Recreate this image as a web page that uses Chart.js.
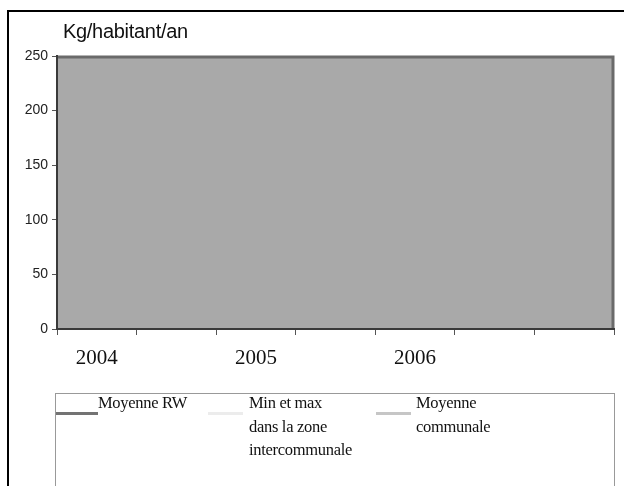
<!DOCTYPE html>
<html>
<head>
<meta charset="utf-8">
<script src="https://cdn.jsdelivr.net/npm/chart.js@4/dist/chart.umd.min.js"></script>
<style>
  body { margin: 0; background: #fff; }
  #wrap { position: relative; width: 624px; height: 486px; overflow: hidden; }
  #frame { position: absolute; left: 7px; top: 10px; width: 700px; height: 600px;
           border-top: 2px solid #000; border-left: 2px solid #000; }
  #title { position: absolute; left: 63px; top: 21px; font: 20px "Liberation Sans", Arial, sans-serif;
           line-height: 20px; color: #111; letter-spacing: -0.3px; }
  #legend { position: absolute; left: 55px; top: 393px; width: 558px; height: 100px;
            border: 1px solid #999; background: #fff; font: 16.5px "Liberation Serif", "Times New Roman", serif;
            color: #111; }
  .swatch { position: absolute; height: 3px; top: 18px; }
  .txt { position: absolute; top: -3px; white-space: pre; line-height: 23.5px; letter-spacing: -0.3px; }
  canvas { position: absolute; left: 0; top: 0; }
</style>
</head>
<body>
<div id="wrap">
  <div id="frame"></div>
  <canvas id="chart" width="624" height="486"></canvas>
  <div id="title">Kg/habitant/an</div>
  <div id="legend"></div>
</div>
<script>
// ---------- Data ----------
const years = ['2004', '', '2005', '', '2006', '', ''];
const yTicks = [0, 50, 100, 150, 200, 250];

// aucune valeur visible sur le graphique
const moyenneRW = [null, null, null, null, null, null, null];
const minMaxZone = [null, null, null, null, null, null, null];
const moyenneCommunale = [null, null, null, null, null, null, null];

const seriesNames = ['Moyenne RW', 'Min et max\ndans la zone\nintercommunale', 'Moyenne\ncommunale'];
const seriesColors = ['#737373', '#ececec', '#c6c6c6'];

// ---------- Fond de la zone de tracé ----------
const plotBg = {
  id: 'plotBg',
  beforeDraw(chart) {
    const { ctx, chartArea: a } = chart;
    ctx.save();
    ctx.fillStyle = '#a9a9a9';
    ctx.fillRect(a.left, a.top, a.right - a.left, a.bottom - a.top);
    ctx.strokeStyle = '#6a6a6a';
    ctx.lineWidth = 3;
    ctx.beginPath();
    ctx.moveTo(a.left, a.top + 1);
    ctx.lineTo(a.right - 1, a.top + 1);
    ctx.lineTo(a.right - 1, a.bottom);
    ctx.stroke();
    ctx.restore();
  }
};

const datasets = [moyenneRW, minMaxZone, moyenneCommunale].map((d, i) => ({
  label: seriesNames[i],
  data: d,
  borderColor: seriesColors[i],
  borderWidth: 3,
  pointRadius: 0,
  fill: false
}));

new Chart(document.getElementById('chart'), {
  type: 'line',
  data: { labels: years, datasets },
  options: {
    responsive: false,
    animation: false,
    layout: { padding: { top: 56, right: 10, bottom: 120, left: 0 } },
    plugins: { legend: { display: false }, tooltip: { enabled: false } },
    scales: {
      x: {
        offset: true,
        afterFit: s => { s.height = 37; },
        border: { color: '#3a3a3a', width: 2 },
        grid: { offset: true, drawOnChartArea: false, tickLength: 6, color: '#555', lineWidth: 1 },
        ticks: {
          autoSkip: false, maxRotation: 0, padding: 11, color: '#111',
          font: { family: '"Liberation Serif", "Times New Roman", serif', size: 21 }
        }
      },
      y: {
        min: 0, max: 250,
        afterFit: s => { s.width = 57; },
        afterBuildTicks: s => { s.ticks = yTicks.map(v => ({ value: v })); },
        border: { color: '#3a3a3a', width: 2 },
        grid: { drawOnChartArea: false, tickLength: 5, color: '#555' },
        ticks: {
          padding: 4, color: '#222',
          font: { family: '"Liberation Sans", Arial, sans-serif', size: 14 }
        }
      }
    }
  },
  plugins: [plotBg]
});

// ---------- Légende ----------
const legendPos = [
  { line: 0, w: 42, text: 42 },
  { line: 152, w: 35, text: 193 },
  { line: 320, w: 35, text: 360 }
];
const legend = document.getElementById('legend');
seriesNames.forEach((name, i) => {
  const p = legendPos[i];
  const sw = document.createElement('div');
  sw.className = 'swatch';
  sw.style.left = p.line + 'px';
  sw.style.width = p.w + 'px';
  sw.style.background = seriesColors[i];
  legend.appendChild(sw);
  const t = document.createElement('div');
  t.className = 'txt';
  t.style.left = p.text + 'px';
  t.textContent = name;
  legend.appendChild(t);
});
</script>
</body>
</html>
